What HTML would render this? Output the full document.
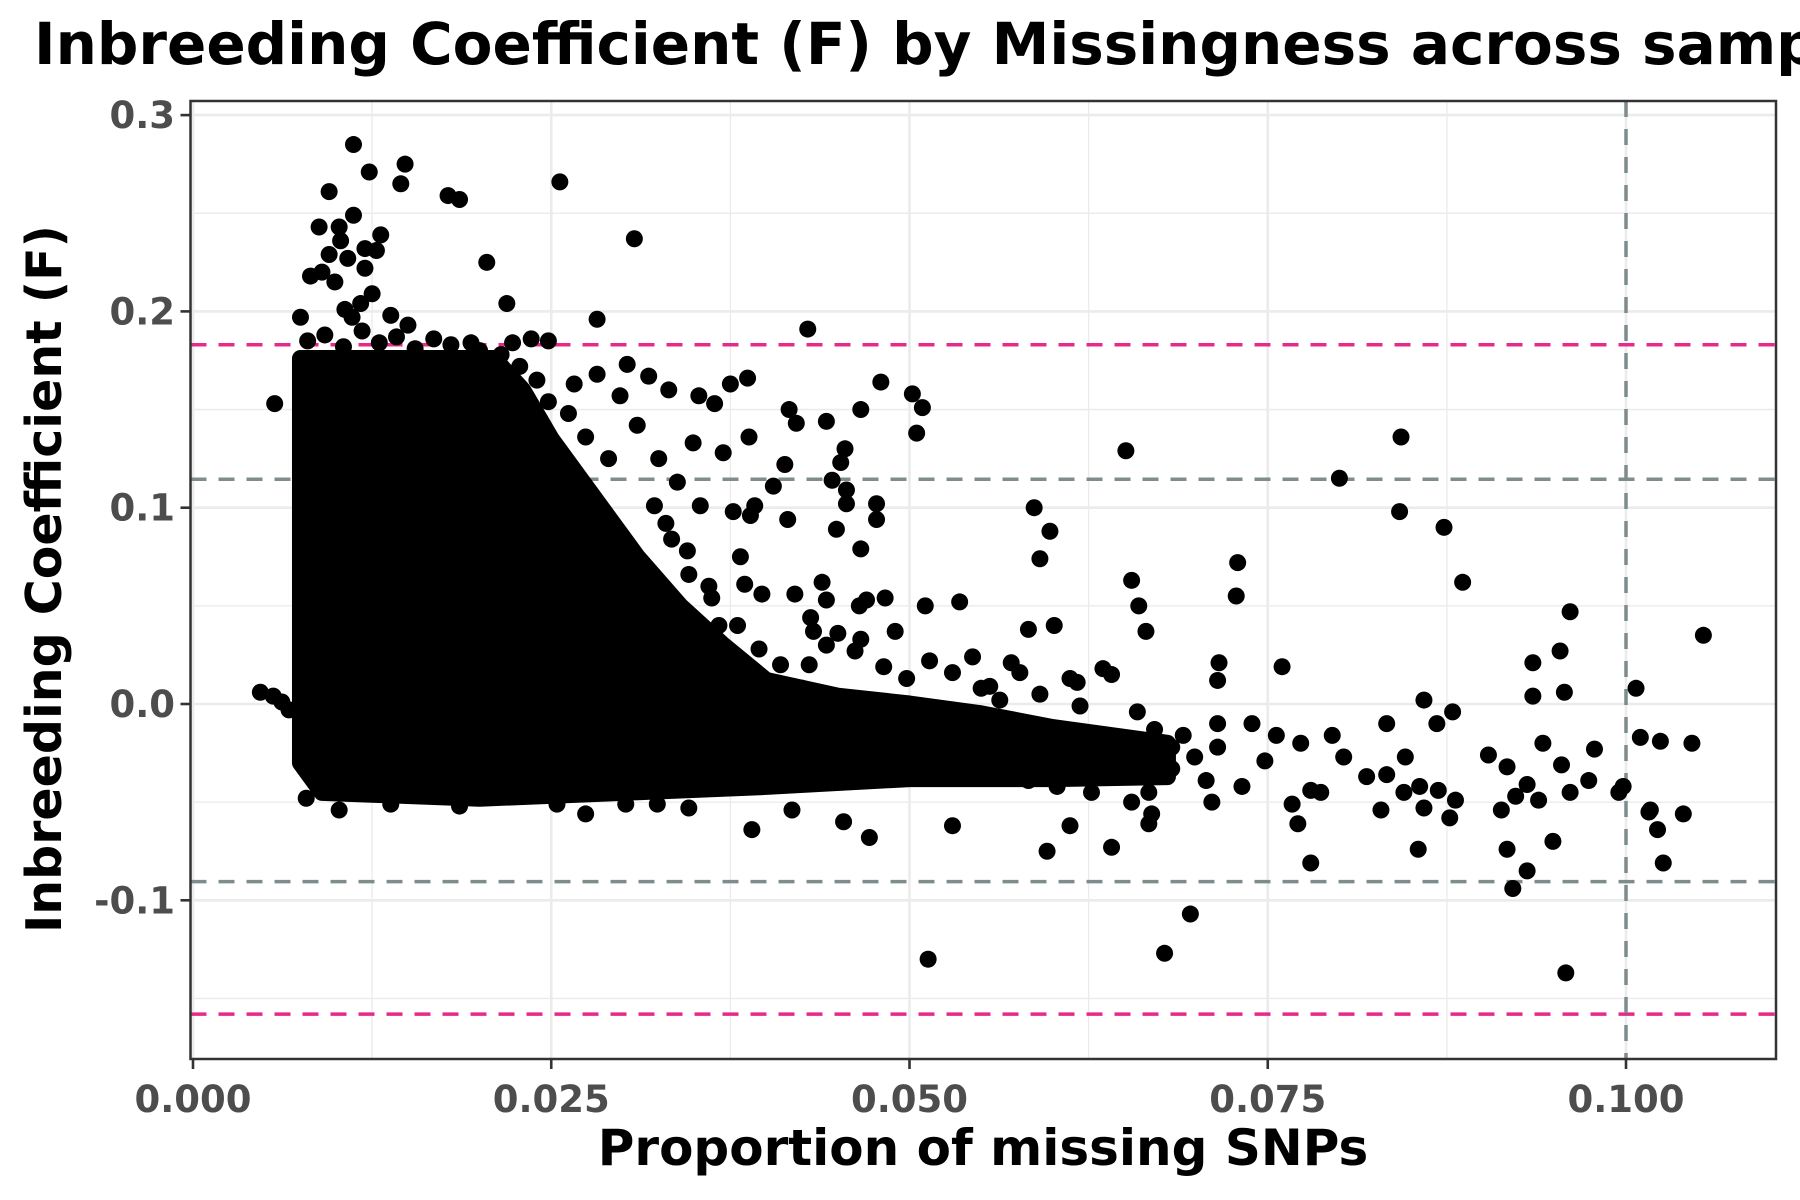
<!DOCTYPE html>
<html><head><meta charset="utf-8"><style>
html,body{margin:0;padding:0;background:#fff;}
svg{display:block;font-family:"DejaVu Sans","Liberation Sans",sans-serif;}
</style></head><body>
<svg id="chart" width="1800" height="1200" viewBox="0 0 1800 1200">
<text x="34" y="64" font-size="58" font-weight="bold" fill="#000">Inbreeding Coefficient (F) by Missingness across samples</text>
<g id="grid"></g>
<g id="refs"></g>
<g id="marks"></g>
<rect x="190.5" y="101" width="1585.5" height="958" fill="none" stroke="#333" stroke-width="2.5"/>
<g id="axes"></g>
<text x="983" y="1165" font-size="50" font-weight="bold" text-anchor="middle" fill="#000">Proportion of missing SNPs</text>
<text transform="translate(61,579) rotate(-90)" font-size="49" font-weight="bold" text-anchor="middle" fill="#000">Inbreeding Coefficient (F)</text>
</svg>
<script>
const xTicks=[0,0.025,0.05,0.075,0.1];
const xTickLabels=["0.000","0.025","0.050","0.075","0.100"];
const yTicks=[-0.1,0,0.1,0.2,0.3];
const yTickLabels=["-0.1","0.0","0.1","0.2","0.3"];
const hlinePink=[0.183,-0.158];
const hlineGray=[0.1145,-0.0905];
const vlineGray=[0.1];
// dense overplotted core outline (data coords)
const denseX=[0.0075,0.021,0.023,0.025,0.028,0.031,0.034,0.037,0.040,0.045,0.050,0.055,0.060,0.068,0.068,0.060,0.050,0.040,0.030,0.020,0.009,0.0075];
const denseY=[0.176,0.176,0.160,0.135,0.105,0.075,0.050,0.030,0.012,0.004,0.000,-0.005,-0.012,-0.020,-0.037,-0.038,-0.038,-0.042,-0.045,-0.048,-0.045,-0.030];
const ptX=[.0112,.0148,.0123,.0145,.0256,.0095,.0178,.0186,.0112,.0088,.0102,.0131,.0308,.0120,.0128,.0103,.0095,.0108,.0205,.0120,.0082,.0090,.0099,.0125,.0117,.0106,.0219,.0111,.0075,.0138,.0150,.0282,.0429,.0236,.0248,.0223,.0194,.0057,.0303,.0318,.0332,.0353,.0375,.0387,.0364,.0416,.0421,.0442,.0466,.0480,.0502,.0509,.0505,.0388,.0370,.0349,.0325,.0455,.0452,.0446,.0456,.0456,.0477,.0477,.0466,.0449,.0413,.0405,.0392,.0415,.0377,.0389,.0382,.0385,.0397,.0420,.0439,.0442,.0431,.0433,.0450,.0465,.0470,.0483,.0466,.0490,.0462,.0442,.0430,.0511,.0535,.0544,.0556,.0571,.0577,.0583,.0601,.0651,.0587,.0598,.0591,.0655,.0660,.0665,.0635,.0641,.0612,.0617,.0716,.0715,.0729,.0728,.0760,.0800,.0843,.0842,.0873,.0886,.0961,.1054,.0935,.0954,.0957,.0935,.1007,.0859,.0879,.0868,.0833,
.0691,.0715,.0739,.0756,.0773,.0795,.0803,.0819,.0833,.0846,.0856,.0869,.0881,.0904,.0917,.0931,.0942,.0955,.0974,.0978,.0998,.1010,.1024,.1046,.1040,.0787,.0767,.0780,.0829,.0845,.0859,.0877,.0913,.0923,.0939,.0961,.1016,.0748,.0732,.0707,.0683,.0667,.0655,.0627,.0603,.0583,.0711,
.0513,.0678,.0696,.0958,.0921,.0931,.0780,.1026,.0995,.0596,.0641,.0390,.0472,.0530,.0612,.0667,.0855,.0917,.0949,.1022,.1017,.0771,.0669,.0454,.0418,
.0047,.0056,.0062,.0067,.0079,.0102,.0138,.0186,.0254,.0274,.0302,.0324,.0346,
.0266,.0282,.0248,.0242,.0274,.0298,.0310,.0338,.0354,.0322,.0334,.0306,.0346,.0362,.0367,.0322,.0298,.0314,.0346,
.0514,.0530,.0498,.0482,.0550,.0563,.0591,.0619,.0659,.0671,.0683,.0699,.0715,
.0080,.0092,.0105,.0118,.0130,.0142,.0155,.0168,.0180,.0200,.0215,.0228,.0240,.0262,.0290,.0330,.0345,.0360,.0380,.0395,.0410,.0425];
const ptY=[.285,.275,.271,.265,.266,.261,.259,.257,.249,.243,.243,.239,.237,.232,.231,.236,.229,.227,.225,.222,.218,.220,.215,.209,.204,.201,.204,.197,.197,.198,.193,.196,.191,.186,.185,.184,.184,.153,.173,.167,.160,.157,.163,.166,.153,.150,.143,.144,.150,.164,.158,.151,.138,.136,.128,.133,.125,.130,.123,.114,.109,.102,.102,.094,.079,.089,.122,.111,.101,.094,.098,.096,.075,.061,.056,.056,.062,.053,.044,.037,.036,.050,.053,.054,.033,.037,.027,.030,.020,.050,.052,.024,.009,.021,.016,.038,.040,.129,.100,.088,.074,.063,.050,.037,.018,.015,.013,.011,.021,.012,.072,.055,.019,.115,.136,.098,.090,.062,.047,.035,.021,.027,.006,.004,.008,.002,-.004,-.010,-.010,
-.016,-.010,-.010,-.016,-.020,-.016,-.027,-.037,-.036,-.027,-.042,-.044,-.049,-.026,-.032,-.041,-.020,-.031,-.039,-.023,-.042,-.017,-.019,-.020,-.056,-.045,-.051,-.044,-.054,-.045,-.053,-.058,-.054,-.047,-.049,-.045,-.055,-.029,-.042,-.039,-.033,-.045,-.050,-.045,-.042,-.039,-.050,
-.130,-.127,-.107,-.137,-.094,-.085,-.081,-.081,-.045,-.075,-.073,-.064,-.068,-.062,-.062,-.061,-.074,-.074,-.070,-.064,-.054,-.061,-.056,-.060,-.054,
.006,.004,.001,-.003,-.048,-.054,-.051,-.052,-.051,-.056,-.051,-.051,-.053,
.163,.168,.154,.145,.136,.157,.142,.113,.101,.101,.084,.078,.066,.054,.040,.060,.049,.034,.031,
.022,.016,.013,.019,.008,.002,.005,-.001,-.004,-.013,-.022,-.027,-.022,
.185,.188,.182,.190,.184,.187,.181,.186,.183,.180,.178,.172,.165,.148,.125,.092,.078,.060,.040,.028,.020,.008];

const NS='http://www.w3.org/2000/svg';
const L=190.5,R=1776,T=101,B=1059;
function sx(v){return 193+v*14330;}
function sy(v){return 704-v*1963;}
function mk(tag,attrs,parent){const e=document.createElementNS(NS,tag);for(const k in attrs)e.setAttribute(k,attrs[k]);parent.appendChild(e);return e;}
const grid=document.getElementById('grid'),refs=document.getElementById('refs'),marks=document.getElementById('marks'),axes=document.getElementById('axes');
mk('rect',{x:L,y:T,width:R-L,height:B-T,fill:'#fff'},grid);
for(let i=0;i<xTicks.length;i++){const v=xTicks[i]+0.0125;if(sx(v)<R){const g=mk('line',{x1:sx(v),x2:sx(v),y1:T,y2:B,stroke:'#ebebeb','stroke-width':1.3},grid);

}}
for(let i=0;i<yTicks.length;i++){for(const d of [-0.05,0.05]){const v=yTicks[i]+d;if(sy(v)>T&&sy(v)<B&&Math.abs(v*100-Math.round(v*10)*10)>1){const g=mk('line',{x1:L,x2:R,y1:sy(v),y2:sy(v),stroke:'#ebebeb','stroke-width':1.3},grid);

}}}
xTicks.forEach((v,i)=>{const g=mk('line',{x1:sx(v),x2:sx(v),y1:T,y2:B,stroke:'#ebebeb','stroke-width':2.6},grid);


const t=mk('line',{x1:sx(v),x2:sx(v),y1:B,y2:B+10,stroke:'#333','stroke-width':2.6},axes);


const lb=mk('text',{x:sx(v),y:1112,'font-size':37,'font-weight':'bold','text-anchor':'middle',fill:'#4d4d4d'},axes);lb.textContent=xTickLabels[i];

});
yTicks.forEach((v,i)=>{const g=mk('line',{x1:L,x2:R,y1:sy(v),y2:sy(v),stroke:'#ebebeb','stroke-width':2.6},grid);


const t=mk('line',{x1:L-10,x2:L,y1:sy(v),y2:sy(v),stroke:'#333','stroke-width':2.6},axes);


const lb=mk('text',{x:175,y:sy(v)+13,'font-size':37,'font-weight':'bold','text-anchor':'end',fill:'#4d4d4d'},axes);lb.textContent=yTickLabels[i];

});
hlinePink.forEach(v=>{const l=mk('line',{x1:L,x2:R,y1:sy(v),y2:sy(v),stroke:'#e7298a','stroke-width':3.5,'stroke-dasharray':'16 12'},refs);

});
hlineGray.forEach(v=>{const l=mk('line',{x1:L,x2:R,y1:sy(v),y2:sy(v),stroke:'#7f8c8d','stroke-width':3.5,'stroke-dasharray':'16 12'},refs);

});
vlineGray.forEach(v=>{const l=mk('line',{x1:sx(v),x2:sx(v),y1:T,y2:B,stroke:'#7f8c8d','stroke-width':3.5,'stroke-dasharray':'16 12'},refs);

});
const pts=denseX.map((x,i)=>sx(x)+','+sy(denseY[i])).join(' ');
const poly=mk('polygon',{points:pts,fill:'#000',stroke:'#000','stroke-width':17,'stroke-linejoin':'round'},marks);


ptX.forEach((x,i)=>{const c=mk('circle',{cx:sx(x),cy:sy(ptY[i]),r:8.5,fill:'#000'},marks);

});
</script>
</body></html>
